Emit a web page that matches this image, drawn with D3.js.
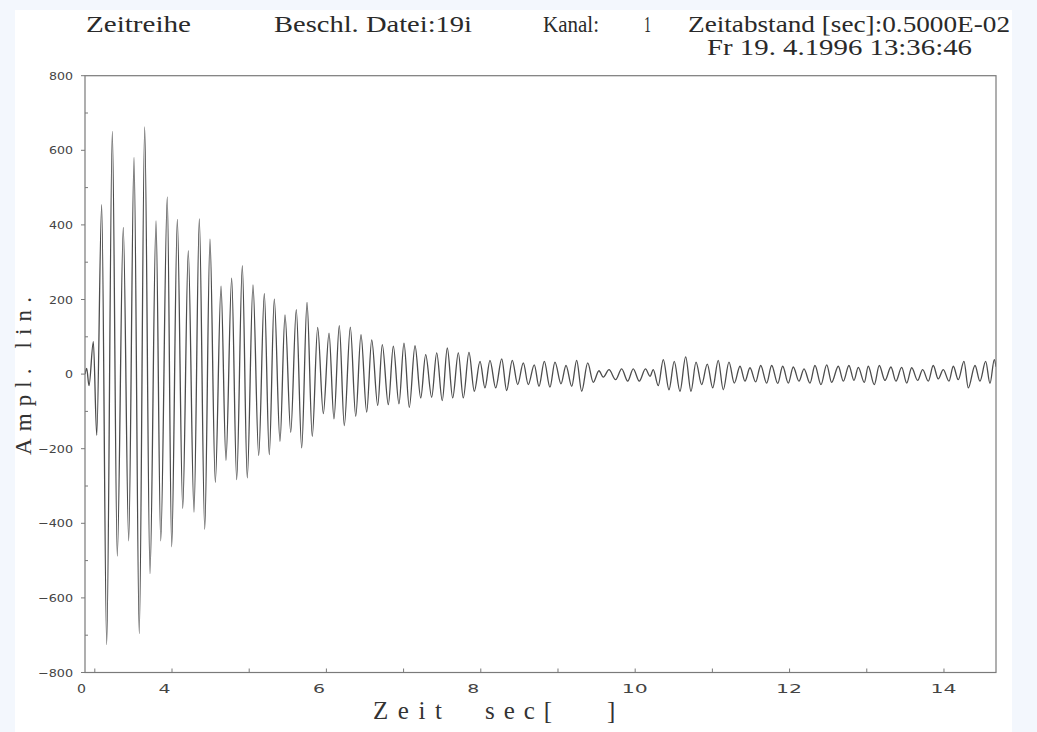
<!DOCTYPE html>
<html>
<head>
<meta charset="utf-8">
<script src="https://cdn.jsdelivr.net/npm/d3@7"></script>
<style>
  html, body { margin: 0; padding: 0; background: #f3f7fd; }
  svg { display: block; }
</style>
</head>
<body>
<div id="chart"></div>
<script>
var timeSec = [
    2.873, 2.895, 2.925, 2.981, 3.025, 3.089, 3.154, 3.227, 3.291, 3.369,
    3.439, 3.508, 3.576, 3.646, 3.715, 3.793, 3.854, 3.939, 3.996, 4.069,
    4.139, 4.211, 4.285, 4.354, 4.424, 4.492, 4.561, 4.635, 4.699, 4.773,
    4.838, 4.911, 4.975, 5.049, 5.123, 5.196, 5.260, 5.325, 5.399, 5.464,
    5.538, 5.610, 5.680, 5.749, 5.817, 5.887, 5.960, 6.034, 6.098, 6.167,
    6.232, 6.310, 6.380, 6.448, 6.522, 6.587, 6.665, 6.724, 6.802, 6.867,
    6.940, 7.005, 7.074, 7.148, 7.222, 7.286, 7.364, 7.429, 7.501, 7.566,
    7.636, 7.709, 7.773, 7.847, 7.916, 7.990, 8.054, 8.119, 8.193, 8.271,
    8.335, 8.408, 8.478, 8.551, 8.615, 8.693, 8.754, 8.823, 8.896, 8.961,
    9.039, 9.104, 9.178, 9.242, 9.307, 9.385, 9.457, 9.531, 9.587, 9.661,
    9.747, 9.825, 9.903, 9.975, 10.053, 10.133, 10.192, 10.234, 10.299, 10.364,
    10.438, 10.506, 10.580, 10.654, 10.723, 10.788, 10.861, 10.934, 11.004, 11.076,
    11.141, 11.215, 11.284, 11.358, 11.422, 11.487, 11.561, 11.626, 11.703, 11.768,
    11.846, 11.911, 11.983, 12.048, 12.122, 12.187, 12.264, 12.329, 12.407, 12.481,
    12.545, 12.631, 12.696, 12.769, 12.834, 12.890, 12.968, 13.019, 13.097, 13.162,
    13.236, 13.313, 13.378, 13.452, 13.517, 13.582, 13.659, 13.724, 13.797, 13.861,
    13.926, 13.991, 14.065, 14.121, 14.185, 14.259, 14.315, 14.402, 14.466, 14.540,
    14.596, 14.652, 14.674
];
var amplitude = [
    0, 15, -31, 87, -164, 454, -725, 651, -488, 393,
    -447, 581, -696, 663, -535, 411, -447, 475, -463, 415,
    -360, 331, -370, 416, -416, 362, -290, 236, -231, 257,
    -283, 291, -278, 239, -218, 216, -216, 201, -180, 159,
    -156, 173, -198, 192, -167, 125, -106, 110, -120, 130,
    -138, 126, -113, 106, -102, 92, -84, 79, -82, 75,
    -80, 83, -89, 76, -64, 52, -62, 57, -71, 70,
    -64, 57, -64, 58, -46, 34, -37, 37, -37, 41,
    -44, 37, -28, 30, -28, 25, -33, 34, -35, 32,
    -26, 23, -33, 37, -46, 30, -22, 9, -8, 12,
    -15, 14, -19, 14, -19, 14, -6, 12, -31, 39,
    -42, 34, -46, 46, -46, 32, -28, 27, -37, 37,
    -42, 32, -24, 21, -19, 17, -21, 23, -24, 23,
    -25, 21, -24, 19, -19, 14, -24, 23, -28, 25,
    -22, 21, -19, 23, -17, 18, -22, 21, -28, 23,
    -17, 19, -19, 18, -24, 17, -17, 12, -19, 23,
    -13, 12, -19, 21, -15, 34, -37, 23, -19, 34,
    -25, 39, 20
];

var yTickValues = [-800, -700, -600, -500, -400, -300, -200, -100, 0, 100, 200, 300, 400, 500, 600, 700, 800];
var yLabelValues = [-800, -600, -400, -200, 0, 200, 400, 600, 800];
var xTickValues = [3, 4, 5, 6, 7, 8, 9, 10, 11, 12, 13, 14];
var xLabelValues = [4, 6, 8, 10, 12, 14];
var xStartLabel = "0";

var headerLine1 = ["Zeitreihe", "Beschl. Datei:19i", "Kanal:", "1", "Zeitabstand [sec]:0.5000E-02"];
var headerLine2 = ["Fr 19. 4.1996 13:36:46"];
var xTitleParts = ["Zeit", "sec[", "]"];
var yTitle = "Ampl. lin.";

var width = 1037, height = 732;
var plot = {left: 85, right: 996, top: 75.7, bottom: 672.5};

var svg = d3.select("#chart").append("svg")
    .attr("width", width).attr("height", height);

// white sheet
svg.append("rect")
    .attr("x", 15).attr("y", 10)
    .attr("width", 997).attr("height", height - 10)
    .attr("fill", "#ffffff");

var x = d3.scaleLinear().domain([timeSec[0], timeSec[timeSec.length - 1]]).range([plot.left, plot.right]);
var y = d3.scaleLinear().domain([-800, 800]).range([plot.bottom, plot.top]);

// header
var serif = "'Liberation Serif', 'DejaVu Serif', serif";
var header = svg.append("g").attr("font-family", serif).attr("font-size", 23).attr("fill", "#2a2a2a");
var line1Pos = [[86, 105], [274, 198], [543, 56], [644, 7], [688, 322]];
headerLine1.forEach(function (txt, i) {
    header.append("text")
        .attr("x", line1Pos[i][0]).attr("y", 31.5)
        .attr("textLength", line1Pos[i][1]).attr("lengthAdjust", "spacingAndGlyphs")
        .text(txt);
});
header.append("text")
    .attr("x", 707).attr("y", 55)
    .attr("textLength", 265).attr("lengthAdjust", "spacingAndGlyphs")
    .text(headerLine2[0]);

// signal
svg.append("clipPath").attr("id", "plotClip")
    .append("rect")
    .attr("x", plot.left).attr("y", plot.top)
    .attr("width", plot.right - plot.left).attr("height", plot.bottom - plot.top);

var signal = d3.line()
    .x(function (d, i) { return x(timeSec[i]); })
    .y(function (d) { return y(d); })
    .curve(d3.curveMonotoneX);

svg.append("path")
    .datum(amplitude)
    .attr("clip-path", "url(#plotClip)")
    .attr("d", signal)
    .attr("fill", "none")
    .attr("stroke", "#4c4c4c")
    .attr("stroke-width", 1.3);

// frame
svg.append("rect")
    .attr("x", plot.left).attr("y", plot.top)
    .attr("width", plot.right - plot.left).attr("height", plot.bottom - plot.top)
    .attr("fill", "none").attr("stroke", "#7a7a7a").attr("stroke-width", 1.2);

// y axis ticks and labels
var tickFont = "'DejaVu Sans', sans-serif";
var yAxis = svg.append("g");
yTickValues.forEach(function (v) {
    var labelled = yLabelValues.indexOf(v) >= 0;
    yAxis.append("line")
        .attr("x1", labelled ? plot.left - 4 : plot.left).attr("x2", labelled ? plot.left : plot.left + 3)
        .attr("y1", y(v)).attr("y2", y(v))
        .attr("stroke", "#7a7a7a").attr("stroke-width", 1);
});
yLabelValues.forEach(function (v) {
    var txt = v < 0 ? "\u2212" + Math.abs(v) : String(v);
    var len = String(Math.abs(v)).length * 8 + (v < 0 ? 11 : 0);
    yAxis.append("text")
        .attr("x", 73 - len).attr("y", y(v) + 4)
        .attr("font-family", tickFont).attr("font-size", 11).attr("fill", "#444")
        .attr("textLength", len).attr("lengthAdjust", "spacingAndGlyphs")
        .text(txt);
});

// x axis ticks and labels
var xAxis = svg.append("g");
xTickValues.forEach(function (t) {
    xAxis.append("line")
        .attr("x1", x(t)).attr("x2", x(t))
        .attr("y1", plot.bottom).attr("y2", plot.bottom - 4)
        .attr("stroke", "#7a7a7a").attr("stroke-width", 1);
});
xLabelValues.forEach(function (t) {
    var n = String(t).length;
    xAxis.append("text")
        .attr("x", x(t) - 13.5).attr("y", 693)
        .attr("font-family", tickFont).attr("font-size", 13).attr("fill", "#444")
        .attr("textLength", 12 * n + 2 * (n - 1)).attr("lengthAdjust", "spacingAndGlyphs")
        .text(t);
});
xAxis.append("text")
    .attr("x", 77).attr("y", 693)
    .attr("font-family", tickFont).attr("font-size", 13).attr("fill", "#444")
    .attr("textLength", 9).attr("lengthAdjust", "spacingAndGlyphs")
    .text(xStartLabel);

// axis titles
var titles = svg.append("g").attr("font-family", serif).attr("fill", "#333");
var xTitlePos = [[373, 69], [485, 67], [607, 8]];
xTitleParts.forEach(function (txt, i) {
    titles.append("text")
        .attr("x", xTitlePos[i][0]).attr("y", 719)
        .attr("font-size", 25)
        .attr("textLength", xTitlePos[i][1]).attr("lengthAdjust", "spacing")
        .text(txt);
});
titles.append("text")
    .attr("transform", "translate(31,376) rotate(-90)")
    .attr("text-anchor", "middle")
    .attr("font-size", 23)
    .attr("textLength", 158).attr("lengthAdjust", "spacing")
    .text(yTitle);
</script>
</body>
</html>
